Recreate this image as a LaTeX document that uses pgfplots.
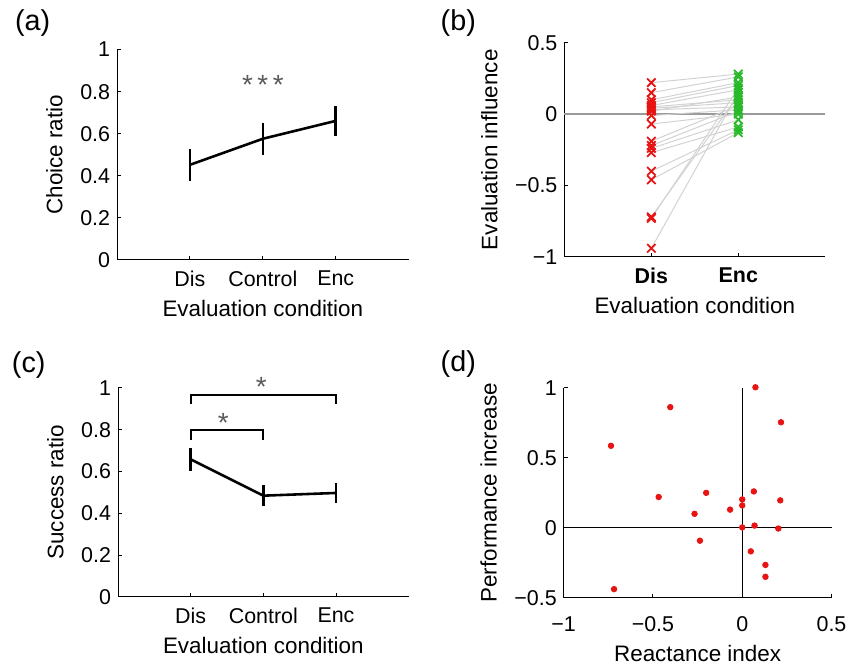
\documentclass[border=0pt]{standalone}
\usepackage{pgfplots}
\pgfplotsset{compat=1.18}
\usepackage{pgfplotstable}
\usepackage{fontspec}
\setmainfont{Liberation Sans}
\definecolor{mred}{RGB}{232,20,20}
\definecolor{mgreen}{RGB}{40,185,40}
\definecolor{stargray}{RGB}{90,90,90}

\pgfplotstableread{
dis enc
0.22 0.28
0.15 0.26
0.10 0.22
0.08 0.20
0.06 0.17
0.05 0.10
0.04 0.08
0.03 0.05
0.02 0.12
-0.01 0.03
-0.07 0.00
-0.19 0.06
-0.22 0.02
-0.24 -0.04
-0.27 -0.09
-0.40 -0.11
-0.46 -0.13
-0.72 0.13
-0.73 0.18
-0.94 0.15
}\tabB

\pgfplotstableread{
x y
0.074 1.004
-0.403 0.862
0.217 0.754
-0.735 0.586
-0.468 0.22
-0.202 0.25
0.065 0.26
0.0 0.203
0.0 0.16
0.213 0.196
-0.068 0.13
-0.267 0.10
0.0 0.003
0.069 0.016
0.202 -0.005
-0.237 -0.092
0.048 -0.168
0.13 -0.265
0.13 -0.35
-0.718 -0.438
}\tabD

\pgfplotsset{
  myax/.style={
    scale only axis, anchor=south west, clip=false,
    axis x line*=bottom, axis y line*=left,
    axis line style={-, black, line width=0.5pt},
    tick align=inside, major tick length=2pt,
    tick style={black, line width=0.5pt},
    /pgf/number format/assume math mode=true,
    tick label style={font=\fontsize{10.8}{12}\selectfont},
    label style={font=\fontsize{11.3}{13}\selectfont},
    xticklabel style={yshift=-2pt},
    ylabel style={yshift=2pt},
  },
}

\begin{document}
\begin{tikzpicture}
\path (0,0) rectangle (426.5pt,333.5pt);
\node[font=\fontsize{14.5}{16}\selectfont] at (16.5pt,322pt) {(a)};
\node[font=\fontsize{14.5}{16}\selectfont] at (231pt,322pt) {(b)};
\node[font=\fontsize{14.5}{16}\selectfont] at (14.5pt,149.5pt) {(c)};
\node[font=\fontsize{14.5}{16}\selectfont] at (231pt,150pt) {(d)};

% (a)
\begin{axis}[myax, at={(59pt,202.5pt)}, width=147pt, height=106pt,
  xmin=0, xmax=4, ymin=0, ymax=1,
  xtick={1,2,3}, xticklabels={Dis,Control,Enc},
  ytick={0,0.2,0.4,0.6,0.8,1}, yticklabels={0,0.2,0.4,0.6,0.8,1},
  ylabel={Choice ratio}, xlabel={Evaluation condition}]
\addplot[black, line width=1.3pt, mark=none,
  error bars/.cd, y dir=both, y explicit, error mark=none,
  error bar style={line width=1.3pt}]
  coordinates {(1,0.452) +- (0,0.077) (2,0.576) +- (0,0.077) (3,0.661) +- (0,0.073)};
\node[stargray, font=\fontsize{14}{16}\selectfont] at (axis cs:2,0.83) {*\,*\,*};
\end{axis}

% (b)
\begin{axis}[myax, at={(284.5pt,204pt)}, width=131.5pt, height=108pt,
  xmin=0, xmax=3, ymin=-1, ymax=0.5,
  xtick={1,2}, xticklabels={\textbf{Dis},\textbf{Enc}},
  ytick={-1,-0.5,0,0.5}, yticklabels={−1,−0.5,0,0.5},
  ylabel={Evaluation influence}, xlabel={Evaluation condition}]
\addplot[gray!80, line width=0.9pt, mark=none] coordinates {(0,0) (3,0)};
\addplot[gray!35, line width=0.5pt, no marks,
  quiver={u=1, v=\thisrow{enc}-\thisrow{dis}, every arrow/.append style={-}}]
  table[x expr=1, y=dis] {\tabB};
\addplot[only marks, mark=x, mark size=3pt, mred, line width=0.9pt] table[x expr=1, y=dis] {\tabB};
\addplot[only marks, mark=x, mark size=3pt, mgreen, line width=0.9pt] table[x expr=2, y=enc] {\tabB};
\end{axis}

% (c)
\begin{axis}[myax, at={(59.5pt,32.65pt)}, width=146.5pt, height=105.35pt,
  xmin=0, xmax=4, ymin=0, ymax=1,
  xtick={1,2,3}, xticklabels={Dis,Control,Enc},
  ytick={0,0.2,0.4,0.6,0.8,1}, yticklabels={0,0.2,0.4,0.6,0.8,1},
  ylabel={Success ratio}, xlabel={Evaluation condition}]
\addplot[black, line width=1.3pt, mark=none,
  error bars/.cd, y dir=both, y explicit, error mark=none,
  error bar style={line width=1.3pt}]
  coordinates {(1,0.658) +- (0,0.054) (2,0.484) +- (0,0.049) (3,0.497) +- (0,0.049)};
\draw[black, line width=1pt] (axis cs:1,0.752) -- (axis cs:1,0.80) -- (axis cs:2,0.80) -- (axis cs:2,0.752);
\draw[black, line width=1pt] (axis cs:1,0.925) -- (axis cs:1,0.968) -- (axis cs:3,0.968) -- (axis cs:3,0.925);
\node[stargray, font=\fontsize{14}{16}\selectfont] at (axis cs:1.45,0.83) {*};
\node[stargray, font=\fontsize{14}{16}\selectfont] at (axis cs:1.97,1.005) {*};
\end{axis}

% (d)
\begin{axis}[myax, at={(284.15pt,32.15pt)}, width=135pt, height=105.85pt,
  xmin=-1, xmax=0.5, ymin=-0.5, ymax=1,
  xtick={-1,-0.5,0,0.5}, xticklabels={−1,−0.5,0,0.5},
  ytick={-0.5,0,0.5,1}, yticklabels={−0.5,0,0.5,1},
  xticklabel style={yshift=-4pt},
  ylabel={Performance increase}, xlabel={Reactance index}]
\addplot[black, line width=0.6pt, mark=none] coordinates {(-1,0) (0.5,0)};
\addplot[black, line width=0.6pt, mark=none] coordinates {(0,-0.5) (0,1)};
\addplot[only marks, mark=*, mark size=1.4pt, mred, draw=none] table[x=x, y=y] {\tabD};
\end{axis}
\end{tikzpicture}
\end{document}
